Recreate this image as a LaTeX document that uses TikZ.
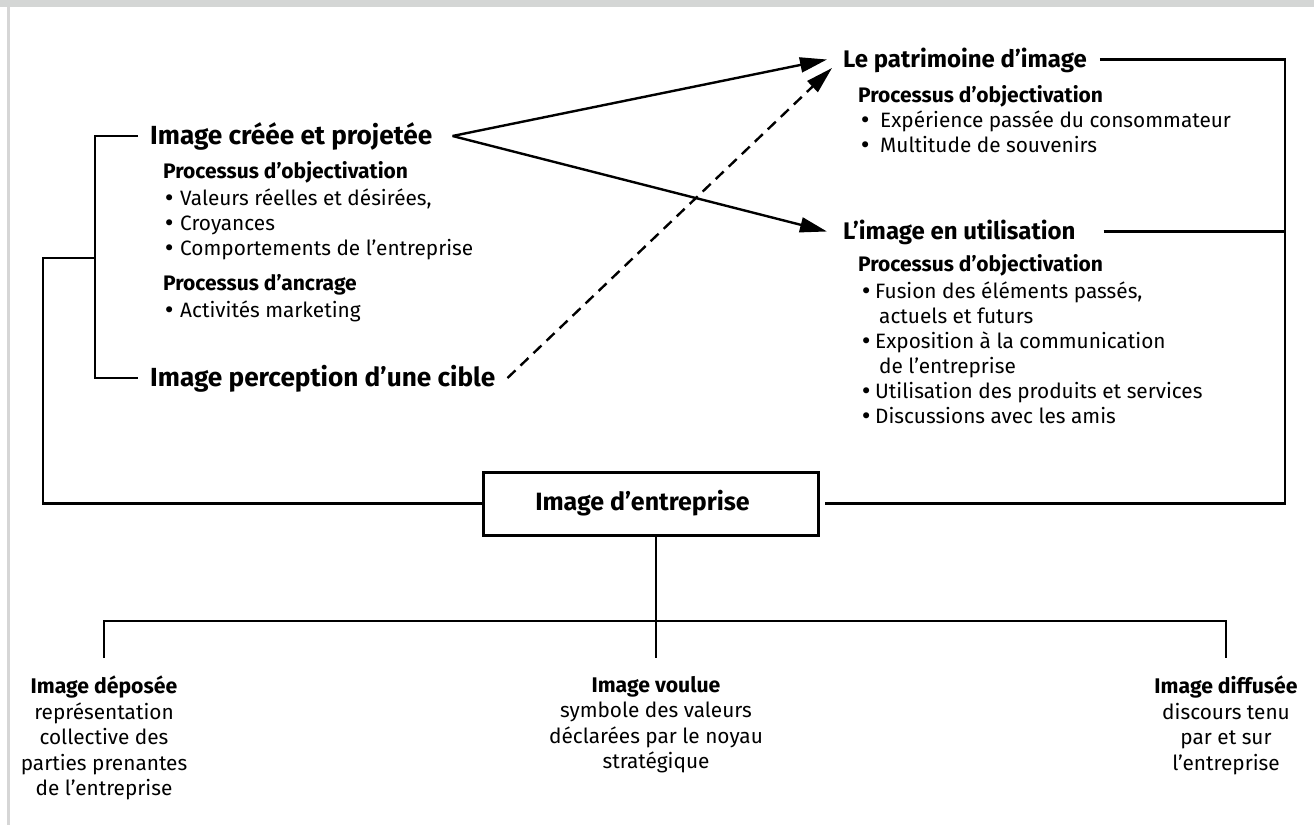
\documentclass[tikz,border=0pt]{standalone}
\usepackage{fontspec}
\setmainfont{Fira Sans}
\newfontfamily\bulfont{DejaVu Sans}
\usetikzlibrary{arrows.meta}
\definecolor{band}{RGB}{212,214,213}
\definecolor{strip}{RGB}{214,214,214}
\newcommand{\lowhd}{\fontsize{21.2}{25.5}\selectfont\bfseries}
\newcommand{\bul}[1]{\makebox[#1][l]{\bulfont •}}
\begin{document}
\begin{tikzpicture}[x=1pt,y=-1pt,
  ln/.style={line width=2.6pt},
  big/.style={font=\fontsize{26.2}{28}\selectfont\bfseries, inner sep=0pt, text height=17pt, text depth=0pt, anchor=west},
  mid/.style={font=\fontsize{24}{26}\selectfont\bfseries, inner sep=0pt, text height=15pt, text depth=0pt, anchor=west},
  head/.style={font=\fontsize{21}{22}\selectfont\bfseries, inner sep=0pt, anchor=base west},
  txt/.style={font=\fontsize{20.8}{22}\selectfont, inner sep=0pt, anchor=base west},
  low/.style={font=\fontsize{20.8}{25.5}\selectfont, inner sep=0pt, anchor=north, align=center},
  arr/.style={line width=2.4pt, -{Triangle[length=27pt,width=15pt]}},
]
\fill[white] (0,0) rectangle (1314,825);
\fill[band] (0,0) rectangle (1314,7);
\fill[strip] (7,7) rectangle (10,825);
\useasboundingbox (0,0) rectangle (1314,825);

% left block
\node[big] (cree) at (150,136) {Image créée et projetée};
\node[head] (lo1) at (163,178) {Processus d’objectivation};
\node[txt] (lb1) at (163,205) {\bul{17pt}Valeurs réelles et désirées,};
\node[txt] (lb2) at (163,230) {\bul{17pt}Croyances};
\node[txt] (lb3) at (163,255) {\bul{17pt}Comportements de l’entreprise};
\node[head] (la) at (163,290) {Processus d’ancrage};
\node[txt] (lb4) at (163,317) {\bul{17pt}Activités marketing};
\node[big] (cible) at (150,378) {Image perception d’une cible};

% right block
\node[mid] (pat) at (843,59.5) {Le patrimoine d’image};
\node[head] (ro1) at (858,102) {Processus d’objectivation};
\node[txt] (rb1) at (859,127) {\bul{21pt}Expérience passée du consommateur};
\node[txt] (rb2) at (859,152) {\bul{21pt}Multitude de souvenirs};
\node[mid] (util) at (843,231.5) {L’image en utilisation};
\node[head] (ro2) at (858,271) {Processus d’objectivation};
\node[txt] (rb3) at (860,298) {\bul{15pt}Fusion des éléments passés,};
\node[txt] (rb4) at (879,323) {actuels et futurs};
\node[txt] (rb5) at (860,348) {\bul{15pt}Exposition à la communication};
\node[txt] (rb6) at (879,373) {de l’entreprise};
\node[txt] (rb7) at (860,398) {\bul{15pt}Utilisation des produits et services};
\node[txt] (rb8) at (860,423) {\bul{15pt}Discussions avec les amis};

% central box
\node[draw, line width=3pt, minimum width=335pt, minimum height=63pt, inner sep=0pt,
      font=\fontsize{25}{30}\selectfont\bfseries] (ent) at (650.5,503.5) {Image d’entreprise\hspace*{16pt}};

% bottom
\node[low] (dep) at (104,676) {{\lowhd Image déposée}\\représentation\\collective des\\parties prenantes\\de l’entreprise};
\node[low] (vou) at (656,676) {{\lowhd Image voulue}\\symbole des valeurs\\déclarées par le noyau\\stratégique};
\node[low] (dif) at (1226,676) {{\lowhd Image diffusée}\\discours tenu\\par et sur\\l’entreprise};

% left bracket
\coordinate (jl) at (95,258);
\draw[ln] ([xshift=-12pt]cree.west) -| (jl) |- ([xshift=-12pt]cible.west);
\draw[ln] (jl) -- ++(-52,0) |- (ent.west);

% right bracket
\coordinate (rx) at (1285,0);
\draw[ln] ([xshift=13pt]pat.east) -| (ent.east -| rx) -- ([xshift=5pt]ent.east);
\draw[ln] ([xshift=28pt]util.east) -- (util.east -| rx);

% arrows
\draw[arr] ([xshift=20pt]cree.east) coordinate (apex) -- ([xshift=-16pt]pat.west);
\draw[arr] (apex) -- ([xshift=-16pt]util.west);
\draw[arr, dash pattern=on 11pt off 7pt] ([xshift=12pt]cible.east) -- ([xshift=-11pt,yshift=-8.5pt]pat.west);

% bottom tree
\coordinate (hy) at (0,621);
\path (dep.north) ++(0,-18) coordinate (depT);
\path (vou.north) ++(0,-18) coordinate (vouT);
\path (dif.north) ++(0,-18) coordinate (difT);
\draw[ln] (ent.south -| vouT) -- (vouT);
\draw[ln] (depT) -- (depT |- hy) -- (difT |- hy) -- (difT);
\end{tikzpicture}
\end{document}
